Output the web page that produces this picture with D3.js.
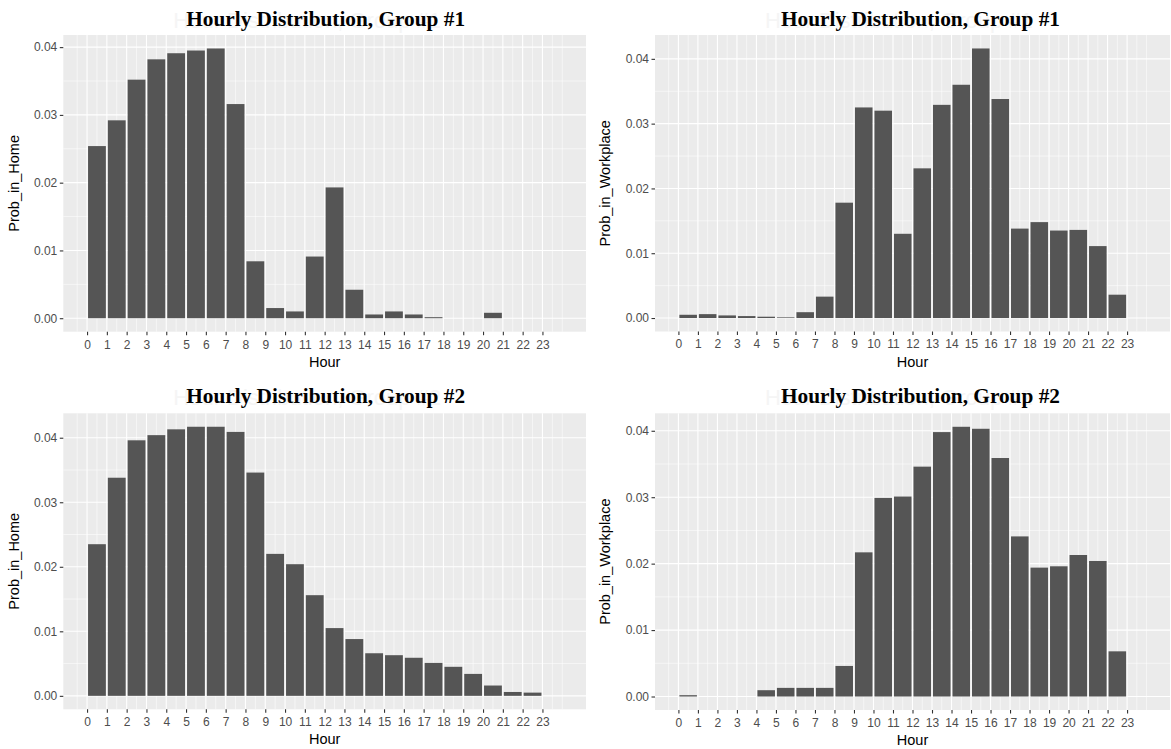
<!DOCTYPE html>
<html>
<head>
<meta charset="utf-8">
<script src="https://cdn.jsdelivr.net/npm/d3@7"></script>
<style>
  body { margin: 0; background: #fff; }
  svg { display: block; }
</style>
</head>
<body>
<script>
// hour of day (bar for hour h covers h .. h+1)
var hours = [0, 1, 2, 3, 4, 5, 6, 7, 8, 9, 10, 11, 12, 13, 14, 15, 16, 17, 18, 19, 20, 21, 22, 23];

var homeGroup1 = [0.0254, 0.0292, 0.0352, 0.0382, 0.0391, 0.0395, 0.0398, 0.0316, 0.0084, 0.0015, 0.0010, 0.0091,
                  0.0193, 0.0042, 0.00055, 0.0010, 0.00055, 0.00015, 0, 0, 0.0008, 0, 0, 0];
var workGroup1 = [0.0005, 0.0006, 0.0004, 0.0003, 0.0002, 0.0001, 0.0009, 0.0033, 0.0178, 0.0325, 0.0320, 0.0130,
                  0.0231, 0.0329, 0.0360, 0.0416, 0.0338, 0.0138, 0.0148, 0.0135, 0.0136, 0.0111, 0.0036, 0];
var homeGroup2 = [0.0235, 0.0338, 0.0396, 0.0404, 0.0413, 0.0417, 0.0417, 0.0409, 0.0346, 0.0220, 0.0204, 0.0156,
                  0.0105, 0.0088, 0.0066, 0.0063, 0.0059, 0.0051, 0.0045, 0.0034, 0.0016, 0.0006, 0.0005, 0];
var workGroup2 = [0.0002, 0, 0, 0, 0.00095, 0.0013, 0.0013, 0.0013, 0.0046, 0.0217, 0.0299, 0.0301,
                  0.0346, 0.0398, 0.0406, 0.0403, 0.0359, 0.0241, 0.0194, 0.0196, 0.0213, 0.0204, 0.0068, 0];

var titles = ["Hourly Distribution, Group #1", "Hourly Distribution, Group #2"];
var ghostTitles = ["Hour Distribution, Group #1", "Hour Distribution, Group #2"];
var yLabels = ["Prob_in_Home", "Prob_in_Workplace"];
var xLabel = "Hour";
var yTicks = [0, 0.01, 0.02, 0.03, 0.04];

var width = 1171,
    height = 749;

var panels = [
  {values: homeGroup1, title: titles[0], ghost: ghostTitles[0], ylab: yLabels[0], left: 63.3, right: 586, top: 35, bottom: 331.7, ylabX: 19, titleY: 26, titleDX: 1},
  {values: workGroup1, title: titles[0], ghost: ghostTitles[0], ylab: yLabels[1], left: 655, right: 1170, top: 35, bottom: 331.5, ylabX: 610, titleY: 26, titleDX: 8},
  {values: homeGroup2, title: titles[1], ghost: ghostTitles[1], ylab: yLabels[0], left: 63.3, right: 586, top: 413.3, bottom: 709.3, ylabX: 19, titleY: 403, titleDX: 1},
  {values: workGroup2, title: titles[1], ghost: ghostTitles[1], ylab: yLabels[1], left: 655, right: 1170, top: 413.3, bottom: 710, ylabX: 610, titleY: 403, titleDX: 8}
];

var svg = d3.select("body").append("svg")
    .attr("width", width)
    .attr("height", height);

var majorX = hours.slice(),
    minorX = [-0.5].concat(hours.map(function(h) { return h + 0.5; }), [24]);

panels.forEach(function(p) {
  var maxV = d3.max(p.values);
  var x = d3.scaleLinear().domain([-1.2, 25.2]).range([p.left, p.right]);
  var y = d3.scaleLinear().domain([-0.05 * maxV, 1.05 * maxV]).range([p.bottom, p.top]);
  var cx = (p.left + p.right) / 2;

  var g = svg.append("g");

  // faint leftover title behind the real one
  g.append("text")
      .attr("x", p.left + 110)
      .attr("y", p.titleY + 2)
      .attr("font-family", "Liberation Sans, Arial, sans-serif")
      .attr("font-size", "22px")
      .attr("fill", "#f5f5f5")
      .text(p.ghost);

  g.append("text")
      .attr("x", cx + p.titleDX)
      .attr("y", p.titleY)
      .attr("text-anchor", "middle")
      .attr("font-family", "Liberation Serif, Times New Roman, serif")
      .attr("font-weight", "bold")
      .attr("font-size", "21.3px")
      .attr("fill", "#000")
      .text(p.title);

  g.append("rect")
      .attr("x", p.left)
      .attr("y", p.top)
      .attr("width", p.right - p.left)
      .attr("height", p.bottom - p.top)
      .attr("fill", "#ebebeb");

  var yMinor = [0.005, 0.015, 0.025, 0.035].filter(function(v) { return v < y.domain()[1]; });

  g.selectAll(".ymin").data(yMinor).enter().append("line")
      .attr("x1", p.left).attr("x2", p.right)
      .attr("y1", function(d) { return y(d); }).attr("y2", function(d) { return y(d); })
      .attr("stroke", "#fff").attr("stroke-width", 0.55);
  g.selectAll(".xmin").data(minorX).enter().append("line")
      .attr("y1", p.top).attr("y2", p.bottom)
      .attr("x1", function(d) { return x(d); }).attr("x2", function(d) { return x(d); })
      .attr("stroke", "#fff").attr("stroke-width", 0.55);
  g.selectAll(".ymaj").data(yTicks).enter().append("line")
      .attr("x1", p.left).attr("x2", p.right)
      .attr("y1", function(d) { return y(d); }).attr("y2", function(d) { return y(d); })
      .attr("stroke", "#fff").attr("stroke-width", 1.1);
  g.selectAll(".xmaj").data(majorX).enter().append("line")
      .attr("y1", p.top).attr("y2", p.bottom)
      .attr("x1", function(d) { return x(d); }).attr("x2", function(d) { return x(d); })
      .attr("stroke", "#fff").attr("stroke-width", 1.1);

  g.selectAll(".bar").data(hours).enter().append("rect")
      .attr("x", function(h) { return x(h + 0.05); })
      .attr("width", function(h) { return x(h + 0.95) - x(h + 0.05); })
      .attr("y", function(h, i) { return y(p.values[i]); })
      .attr("height", function(h, i) { return y(0) - y(p.values[i]); })
      .attr("fill", "#555555");

  var yAxis = g.append("g")
      .attr("transform", "translate(" + p.left + ",0)")
      .call(d3.axisLeft(y).tickValues(yTicks).tickFormat(d3.format(".2f")).tickSize(3.5).tickPadding(2.5));
  var xAxis = g.append("g")
      .attr("transform", "translate(0," + p.bottom + ")")
      .call(d3.axisBottom(x).tickValues(hours).tickFormat(d3.format("d")).tickSize(3.5).tickPadding(4.8));

  [yAxis, xAxis].forEach(function(a) {
    a.select(".domain").remove();
    a.selectAll(".tick line").attr("stroke", "#333").attr("stroke-width", 1.1);
    a.selectAll(".tick text")
        .attr("fill", "#4d4d4d")
        .attr("font-family", "Liberation Sans, Arial, sans-serif")
        .attr("font-size", "12px");
  });

  g.append("text")
      .attr("x", cx)
      .attr("y", p.bottom + 35)
      .attr("text-anchor", "middle")
      .attr("font-family", "Liberation Sans, Arial, sans-serif")
      .attr("font-size", "14.5px")
      .attr("fill", "#000")
      .text(xLabel);

  g.append("text")
      .attr("transform", "translate(" + p.ylabX + "," + ((p.top + p.bottom) / 2) + ") rotate(-90)")
      .attr("text-anchor", "middle")
      .attr("font-family", "Liberation Sans, Arial, sans-serif")
      .attr("font-size", "14.5px")
      .attr("fill", "#000")
      .text(p.ylab);
});
</script>
</body>
</html>
